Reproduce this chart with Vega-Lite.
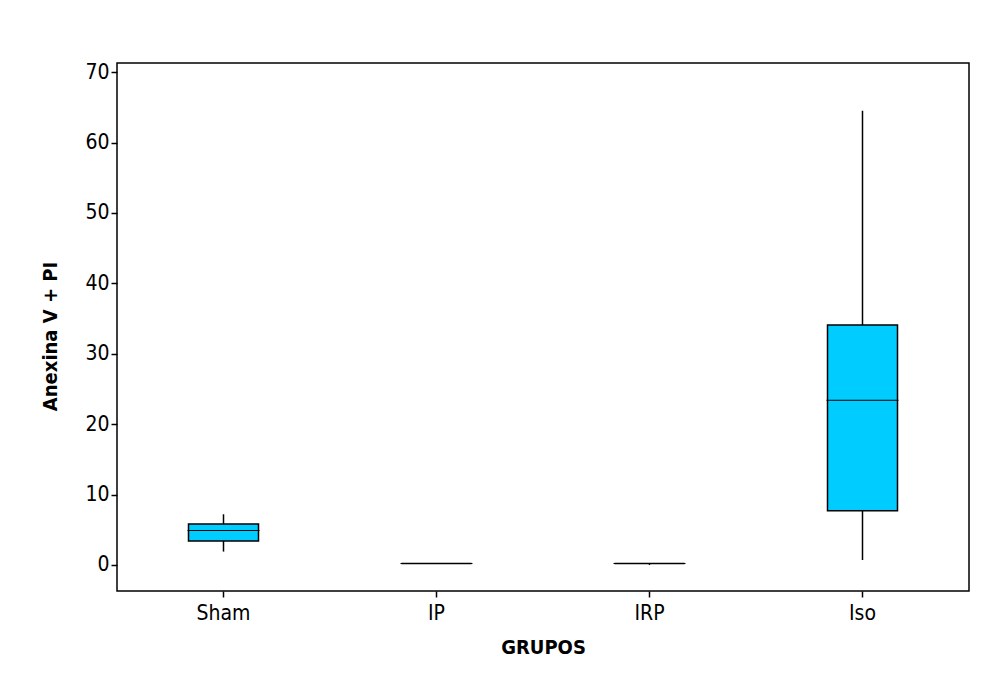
{
  "$schema": "https://vega.github.io/schema/vega-lite/v6.json",
  "autosize": "none",
  "width": 852,
  "height": 528,
  "padding": {"left": 117, "top": 63, "right": 33, "bottom": 86},
  "background": "white",
  "data": {
    "values": [
      {"grupo": "Sham", "min": 1.9, "q1": 3.4, "median": 4.9, "q3": 5.8, "max": 7.2},
      {"grupo": "IP", "min": 0.2, "q1": 0.2, "median": 0.2, "q3": 0.2, "max": 0.2},
      {"grupo": "IRP", "min": 0.0, "q1": 0.2, "median": 0.2, "q3": 0.2, "max": 0.2},
      {"grupo": "Iso", "min": 0.7, "q1": 7.7, "median": 23.4, "q3": 34.1, "max": 64.5}
    ]
  },
  "encoding": {
    "x": {
      "field": "grupo",
      "type": "nominal",
      "sort": ["Sham", "IP", "IRP", "Iso"],
      "scale": {"paddingInner": 0, "paddingOuter": 0},
      "axis": {
        "title": "GRUPOS",
        "labelAngle": 0,
        "labelPadding": 5,
        "titlePadding": 14
      }
    }
  },
  "layer": [
    {
      "mark": {"type": "rule", "color": "black", "strokeWidth": 1.5},
      "encoding": {
        "y": {
          "field": "min",
          "type": "quantitative",
          "scale": {"domain": [-3.7, 71.3], "nice": false, "zero": false},
          "axis": {
            "title": "Anexina V + PI",
            "values": [0, 10, 20, 30, 40, 50, 60, 70],
            "titlePadding": 24,
            "titleY": 273
          }
        },
        "y2": {"field": "max"}
      }
    },
    {
      "mark": {"type": "bar", "size": 70, "fill": "#00CCFF", "stroke": "black", "strokeWidth": 1.5},
      "encoding": {
        "y": {"field": "q1", "type": "quantitative"},
        "y2": {"field": "q3"}
      }
    },
    {
      "mark": {"type": "tick", "size": 72, "thickness": 1, "color": "black", "opacity": 1},
      "encoding": {
        "y": {"field": "median", "type": "quantitative"}
      }
    }
  ],
  "config": {
    "view": {"stroke": "black", "strokeWidth": 1.5},
    "axis": {
      "grid": false,
      "domain": false,
      "tickColor": "black",
      "tickSize": 6,
      "tickWidth": 1.5,
      "labelColor": "black",
      "labelFont": "DejaVu Sans Condensed",
      "labelFontSize": 21,
      "labelPadding": 2,
      "titleColor": "black",
      "titleFont": "DejaVu Sans Condensed",
      "titleFontWeight": "bold",
      "titleFontSize": 20
    }
  }
}
